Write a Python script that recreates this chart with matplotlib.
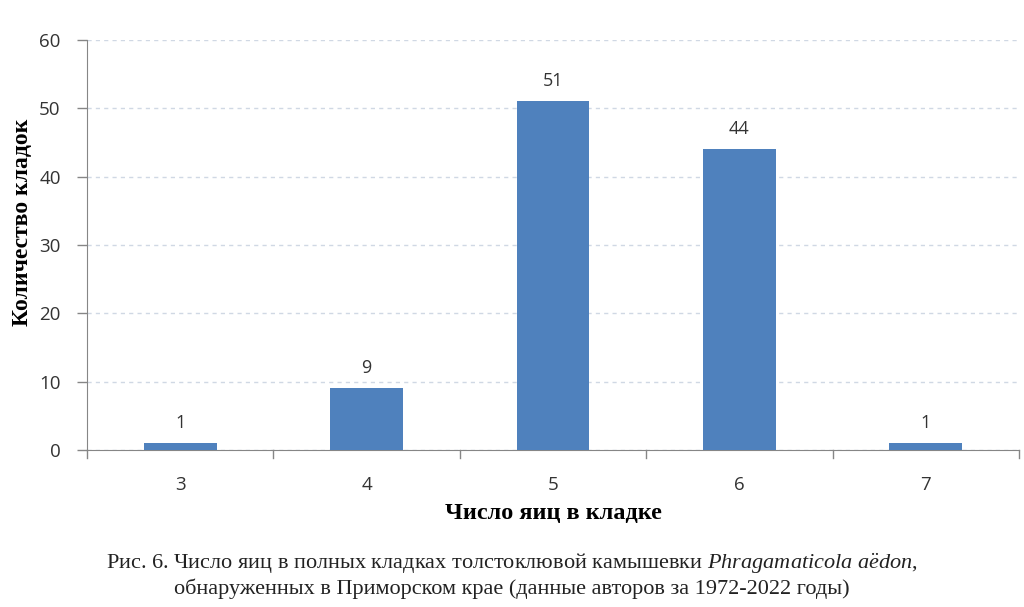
import matplotlib
matplotlib.use("Agg")
import matplotlib.pyplot as plt

eggs = ["3", "4", "5", "6", "7"]
clutches = [1, 9, 51, 44, 1]
y_ticks = [0, 10, 20, 30, 40, 50, 60]

plt.rcParams['mathtext.fontset'] = 'custom'
plt.rcParams['mathtext.rm'] = 'Liberation Serif'
plt.rcParams['mathtext.it'] = 'Liberation Serif:italic'

fig = plt.figure(figsize=(10.24, 6.07), dpi=100)
ax = fig.add_axes([0.085, 0.2587, 0.91, 0.6755])

x = list(range(len(eggs)))
ax.bar(x, clutches, width=0.39, color='#4F81BD', zorder=3)

for xi, v in zip(x, clutches):
    ax.text(xi, v + 1.7, str(v), ha='center', va='bottom', fontsize=13,
            color='#333333', family='Open Sans')

ax.set_xlim(-0.5, len(eggs) - 0.5)
ax.set_ylim(0, 60)
ax.set_yticks(y_ticks)
ax.set_yticklabels([str(t) for t in y_ticks], family='Open Sans', fontsize=13.5, color='#333333')
ax.set_xticks(x)
ax.set_xticklabels(eggs, family='Open Sans', fontsize=13.5, color='#333333')
ax.tick_params(axis='x', length=0, pad=19)
ax.tick_params(axis='y', length=7, color='#868686', width=1, pad=12)

# category separators below the x axis
for b in [i - 0.5 for i in range(len(eggs) + 1)]:
    ax.plot([b, b], [0, -1.2], color='#868686', lw=1, clip_on=False)

ax.grid(axis='y', linestyle=(0, (3, 3)), color='#D0D8E4', lw=1, zorder=0)
for s in ['top', 'right']:
    ax.spines[s].set_visible(False)
ax.spines['left'].set_color('#868686')
ax.spines['bottom'].set_color('#868686')

ax.set_ylabel('Количество кладок', family='Liberation Serif', fontweight='bold',
              fontsize=17)
ax.yaxis.set_label_coords(-0.058, 0.556)
ax.set_xlabel('Число яиц в кладке', family='Liberation Serif', fontweight='bold',
              fontsize=17.5, labelpad=6)

fig.text(0.5, 0.072,
         r'Рис. 6. Число яиц в полных кладках толстоклювой камышевки $Phragamaticola\ a\ddot{e}don$,',
         ha='center', va='center', family='Liberation Serif', fontsize=16, color='#222222')
fig.text(0.5, 0.03,
         'обнаруженных в Приморском крае (данные авторов за 1972-2022 годы)',
         ha='center', va='center', family='Liberation Serif', fontsize=16, color='#222222')

fig.savefig('out.png', dpi=100)
